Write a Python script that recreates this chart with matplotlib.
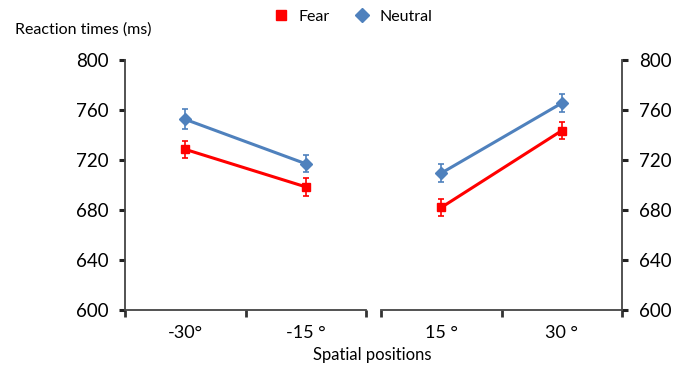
import matplotlib
matplotlib.use("Agg")
import matplotlib.pyplot as plt
from matplotlib.lines import Line2D

plt.rcParams['font.family'] = ['Lato', 'DejaVu Sans']

left_cats = ["-30°", "-15 °"]
right_cats = ["15 °", "30 °"]
fear_left = [728.5, 698.5]
fear_right = [682, 743.5]
neutral_left = [752.5, 717]
neutral_right = [709.5, 765.5]
fear_err_left = [7, 7]
fear_err_right = [7, 7]
neutral_err_left = [8, 7]
neutral_err_right = [7, 7]
yticks = [600, 640, 680, 720, 760, 800]

RED = "#FF0000"
BLUE = "#4F81BD"

fig = plt.figure(figsize=(6.84, 3.67), dpi=100)
ax1 = fig.add_axes([125/684, 57/367, 241/684, 250/367])
ax2 = fig.add_axes([381/684, 57/367, 241/684, 250/367])

xpos = [0.5, 1.5]

for ax, cats, fv, nv, fe, ne in [
    (ax1, left_cats, fear_left, neutral_left, fear_err_left, neutral_err_left),
    (ax2, right_cats, fear_right, neutral_right, fear_err_right, neutral_err_right),
]:
    ax.errorbar(xpos, nv, yerr=ne, color=BLUE, lw=2.2, marker='D', ms=6,
                capsize=2, elinewidth=1.2, capthick=1.2, zorder=3)
    ax.errorbar(xpos, fv, yerr=fe, color=RED, lw=2.2, marker='s', ms=6,
                capsize=2, elinewidth=1.2, capthick=1.2, zorder=4)
    ax.set_xlim(0, 2)
    ax.set_ylim(600, 800)
    ax.set_xticks([0, 1, 2])
    ax.set_xticklabels([])
    ax.set_xticks(xpos, minor=True)
    ax.set_xticklabels(cats, minor=True, fontsize=13)
    ax.tick_params(axis='x', which='major', direction='out', length=5, width=2, color='#333333')
    ax.tick_params(axis='x', which='minor', length=0, pad=11)
    ax.set_yticks(yticks)
    ax.spines['top'].set_visible(False)
    for s in ax.spines.values():
        s.set_color('#444444')
        s.set_linewidth(1.3)

ax1.spines['right'].set_visible(False)
ax1.tick_params(axis='y', direction='out', length=4, width=2.2, labelsize=13.5, pad=8, color='#222222')

ax2.spines['left'].set_visible(False)
ax2.yaxis.tick_right()
ax2.tick_params(axis='y', direction='out', length=4, width=2.2, labelsize=13.5, pad=8, color='#222222')

fig.text(15/684, 1 - 30/367, "Reaction times (ms)", fontsize=11.5, va='center', ha='left')
fig.text(372/684, 1 - 355/367, "Spatial positions", fontsize=12, va='center', ha='center')

handles = [
    Line2D([], [], color=RED, marker='s', ls='none', ms=7.5),
    Line2D([], [], color=BLUE, marker='D', ls='none', ms=7.5),
]
fig.legend(handles, ["Fear", "Neutral"], loc='center', bbox_to_anchor=(353/684, 1 - 17/367),
           ncol=2, frameon=False, fontsize=11.5, handletextpad=0.6, columnspacing=1.5,
           handlelength=1.0)

fig.savefig("out.png", dpi=100)
